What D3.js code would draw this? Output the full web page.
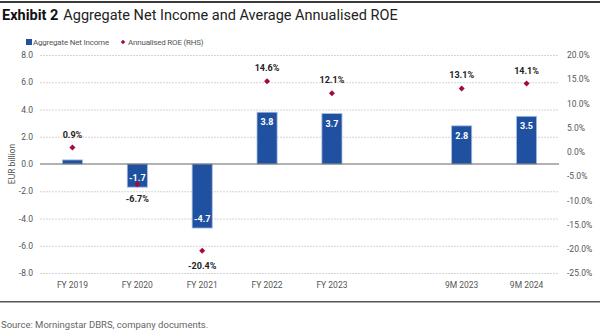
<!DOCTYPE html>
<html>
<head>
<meta charset="utf-8">
<script src="https://cdn.jsdelivr.net/npm/d3@7"></script>
<style>
  body { margin: 0; background: #fff; }
  svg text { font-family: "Roboto", "Liberation Sans", sans-serif; }
</style>
</head>
<body>
<script>
var categories = ["FY 2019", "FY 2020", "FY 2021", "FY 2022", "FY 2023", "", "9M 2023", "9M 2024"];
var netIncome = [0.3, -1.7, -4.7, 3.8, 3.7, null, 2.8, 3.5];
var roe = [0.9, -6.7, -20.4, 14.6, 12.1, null, 13.1, 14.1];
var leftTicks = [8, 6, 4, 2, 0, -2, -4, -6, -8];
var rightTicks = [20, 15, 10, 5, 0, -5, -10, -15, -20, -25];

var w = 600, h = 334;
var margin = {top: 55, bottom: 61, left: 40, right: 41};

var svg = d3.select("body").append("svg")
  .attr("width", w)
  .attr("height", h);

var x = d3.scaleBand()
  .domain(categories.map(function(d, i){ return i; }))
  .range([margin.left, w - margin.right])
  .paddingInner(0.69)
  .paddingOuter(0.345);

var y = d3.scaleLinear().domain([-8, 8]).range([h - margin.bottom, margin.top]);
var y2 = d3.scaleLinear().domain([-25, 20]).range([h - margin.bottom, margin.top]);

var diamond = function(size){
  return d3.symbol(d3.symbolSquare, size)();
};

// header
svg.append("rect").attr("x", 0).attr("y", 1).attr("width", w).attr("height", 2).attr("fill", "#3a3a3a");
var title = svg.append("text").attr("x", 2).attr("y", 20).attr("font-size", 14.5).attr("fill", "#111");
title.append("tspan").attr("font-weight", "bold").text("Exhibit 2");
title.append("tspan").attr("dx", 5).attr("fill", "#222").text("Aggregate Net Income and Average Annualised ROE");

// legend
svg.append("rect").attr("x", 26).attr("y", 39).attr("width", 6).attr("height", 6).attr("fill", "#1f51a0");
svg.append("text").attr("x", 33).attr("y", 45).attr("font-size", 8).attr("letter-spacing", -0.2).attr("fill", "#555").text("Aggregate Net Income");
svg.append("path").attr("d", diamond(10)).attr("transform", "translate(123,42) rotate(45)").attr("fill", "#a50a3c");
svg.append("text").attr("x", 128).attr("y", 45).attr("font-size", 8).attr("letter-spacing", -0.2).attr("fill", "#555").text("Annualised ROE (RHS)");

// gridlines
svg.append("g").selectAll("line").data(leftTicks.filter(function(d){ return d !== 0; }))
  .enter().append("line")
  .attr("x1", margin.left).attr("x2", w - margin.right)
  .attr("y1", function(d){ return y(d) + 0.5; }).attr("y2", function(d){ return y(d) + 0.5; })
  .attr("stroke", "#d4d4d4").attr("stroke-width", 1).attr("stroke-dasharray", "2,1");

// left axis
var leftAxis = d3.axisLeft(y).tickValues(leftTicks).tickSize(0).tickPadding(0)
  .tickFormat(function(d){ return d.toFixed(1); });
var gl = svg.append("g").attr("transform", "translate(" + 33 + ",0)").call(leftAxis);
gl.select(".domain").remove();
gl.selectAll("text").attr("font-size", 8.5).attr("fill", "#555");

// right axis
var rightAxis = d3.axisRight(y2).tickValues(rightTicks).tickSize(0).tickPadding(0)
  .tickFormat(function(d){ return d.toFixed(1) + "%"; });
var gr = svg.append("g").attr("transform", "translate(" + 567 + ",0)").call(rightAxis);
gr.select(".domain").remove();
gr.selectAll("text").attr("font-size", 8.5).attr("fill", "#555");

// x axis labels
var xAxis = d3.axisBottom(x).tickSize(0).tickPadding(0)
  .tickFormat(function(i){ return categories[i]; });
var gx = svg.append("g").attr("transform", "translate(0," + 282 + ")").call(xAxis);
gx.select(".domain").remove();
gx.selectAll("text").attr("font-size", 8.5).attr("fill", "#555");

// y title
svg.append("text")
  .attr("transform", "translate(15," + y(0) + ") rotate(-90)")
  .attr("text-anchor", "middle").attr("font-size", 8.5).attr("fill", "#555")
  .text("EUR billion");

var barData = netIncome.map(function(v, i){ return {i: i, v: v}; }).filter(function(d){ return d.v !== null; });

// bars
svg.append("g").selectAll("rect").data(barData).enter().append("rect")
  .attr("x", function(d){ return x(d.i); })
  .attr("width", x.bandwidth())
  .attr("y", function(d){ return Math.min(y(d.v), y(0)); })
  .attr("height", function(d){ return Math.abs(y(d.v) - y(0)); })
  .attr("fill", "#1f51a0")
  .attr("stroke", "#a9bde0").attr("stroke-width", 0.8);

// zero line
svg.append("line")
  .attr("x1", margin.left).attr("x2", w - margin.right)
  .attr("y1", y(0)).attr("y2", y(0))
  .attr("stroke", "#666").attr("stroke-width", 1.2);

// bar labels
svg.append("g").selectAll("text").data(barData.filter(function(d){ return Math.abs(d.v) > 1; }))
  .enter().append("text")
  .attr("x", function(d){ return x(d.i) + x.bandwidth() / 2; })
  .attr("y", function(d){ return d.v > 0 ? y(d.v) + 13 : y(d.v) - 6; })
  .attr("text-anchor", "middle").attr("font-size", 9).attr("font-weight", "bold").attr("fill", "#fff")
  .text(function(d){ return d.v.toFixed(1); });

var roeData = roe.map(function(v, i){ return {i: i, v: v}; }).filter(function(d){ return d.v !== null; });

// ROE markers
svg.append("g").selectAll("path").data(roeData).enter().append("path")
  .attr("d", diamond(18))
  .attr("transform", function(d){ return "translate(" + (x(d.i) + x.bandwidth() / 2) + "," + y2(d.v) + ") rotate(45)"; })
  .attr("fill", "#a50a3c");

// ROE labels
svg.append("g").selectAll("text").data(roeData).enter().append("text")
  .attr("x", function(d){ return x(d.i) + x.bandwidth() / 2; })
  .attr("y", function(d){ return d.v >= 0 ? y2(d.v) - 10 : y2(d.v) + 18; })
  .attr("text-anchor", "middle").attr("font-size", 9).attr("font-weight", "bold").attr("fill", "#222")
  .text(function(d){ return d.v.toFixed(1) + "%"; });

// footer
svg.append("rect").attr("x", 0).attr("y", 301).attr("width", w).attr("height", 1.5).attr("fill", "#555");
svg.append("text").attr("x", 1).attr("y", 328).attr("font-size", 9.5).attr("fill", "#666")
  .text("Source: Morningstar DBRS, company documents.");
</script>
</body>
</html>
